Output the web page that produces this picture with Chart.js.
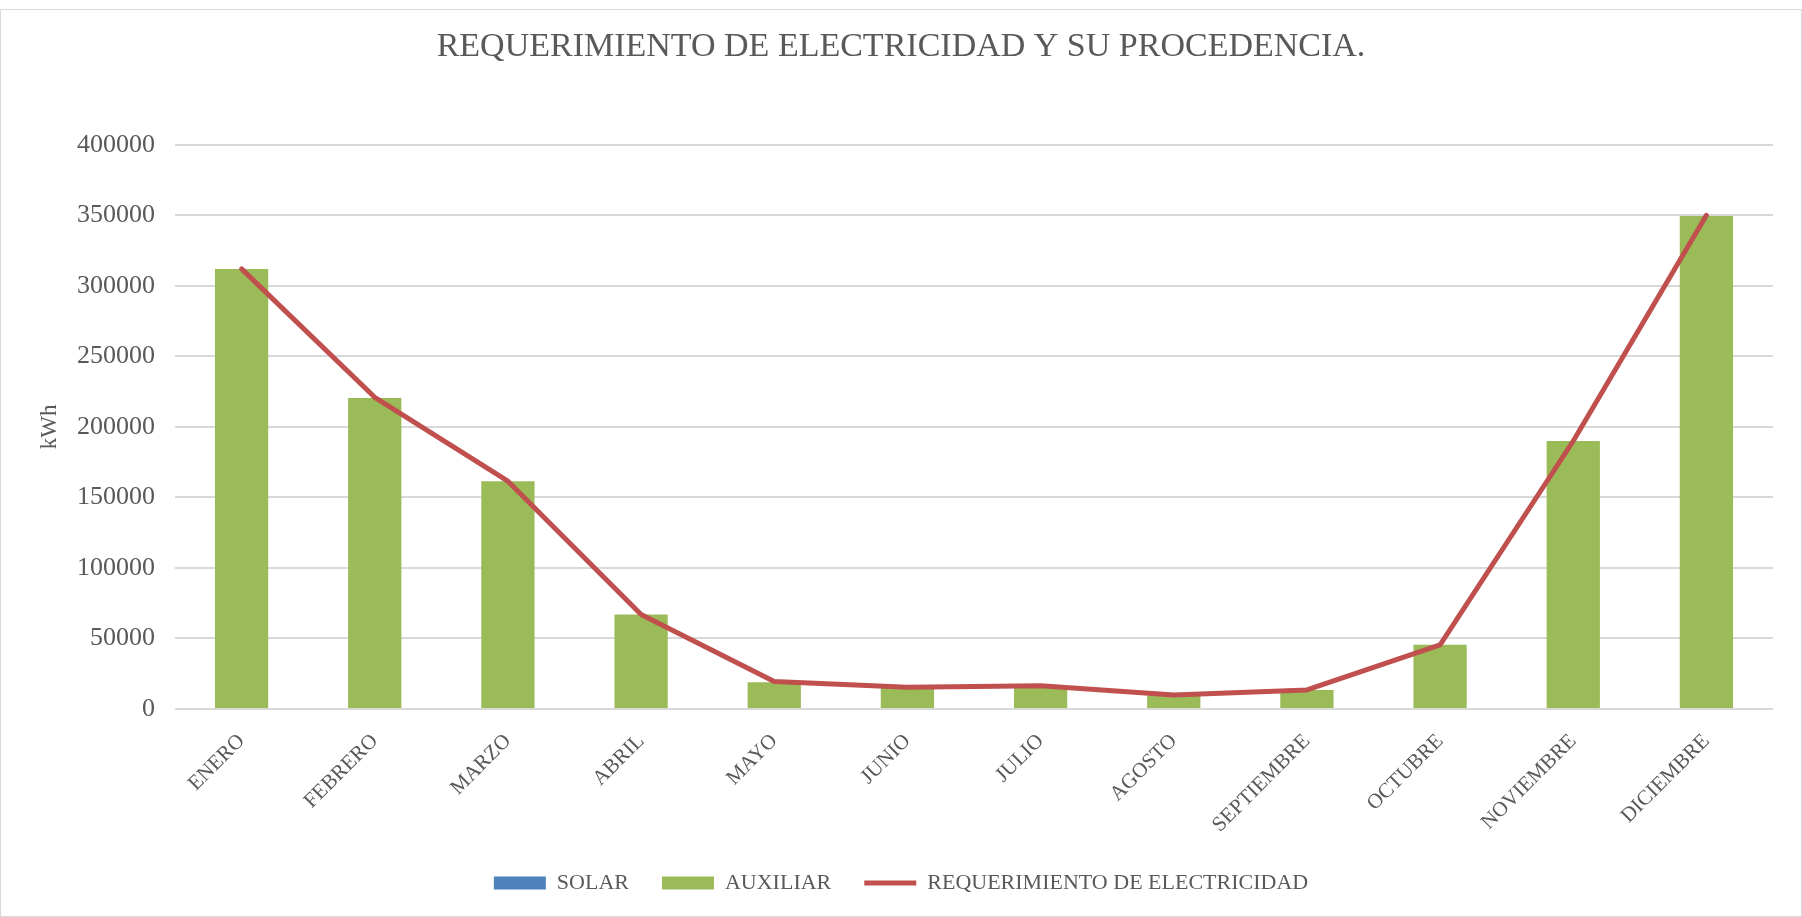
<!DOCTYPE html>
<html>
<head>
<meta charset="utf-8">
<script src="https://cdn.jsdelivr.net/npm/chart.js@4.4.1/dist/chart.umd.min.js"></script>
<style>
  html, body { margin: 0; padding: 0; background: #fff; }
  #wrap { position: absolute; left: 0; top: 9px; width: 1800px; height: 906px; border: 1px solid #d9d9d9; }
  canvas { display: block; }
</style>
</head>
<body>
<div id="wrap"><canvas id="chart" width="1800" height="906"></canvas></div>
<script>
const meses = ['ENERO', 'FEBRERO', 'MARZO', 'ABRIL', 'MAYO', 'JUNIO', 'JULIO', 'AGOSTO', 'SEPTIEMBRE', 'OCTUBRE', 'NOVIEMBRE', 'DICIEMBRE'];
const solar = [0, 0, 0, 0, 0, 0, 0, 0, 0, 0, 0, 0];
const auxiliar = [312000, 220500, 161500, 67000, 19000, 15500, 16500, 9500, 13500, 45500, 190000, 349500];
const requerimiento = [312000, 221000, 161500, 67000, 19500, 15500, 16500, 10000, 13500, 45500, 190000, 350000];

const fuente = 'Liberation Serif';
const gris = '#595959';

document.addEventListener('DOMContentLoaded', function () {
    const ctx = document.getElementById('chart').getContext('2d');

    new Chart(ctx, {
        type: 'bar',
        data: {
            labels: meses,
            datasets: [{
                label: 'SOLAR',
                data: solar,
                backgroundColor: '#4F81BD',
                borderWidth: 0,
                stack: 'fuente',
                order: 1,
                pointStyle: 'rect'
            }, {
                label: 'AUXILIAR',
                data: auxiliar,
                backgroundColor: '#9BBB59',
                borderWidth: 0,
                stack: 'fuente',
                order: 1,
                pointStyle: 'rect'
            }, {
                type: 'line',
                label: 'REQUERIMIENTO DE ELECTRICIDAD',
                data: requerimiento,
                borderColor: '#C0504D',
                backgroundColor: '#C0504D',
                borderWidth: 5,
                borderCapStyle: 'round',
                borderJoinStyle: 'round',
                pointRadius: 0,
                pointHoverRadius: 0,
                tension: 0,
                stack: 'req',
                order: 0,
                pointStyle: 'line'
            }]
        },
        options: {
            responsive: false,
            animation: false,
            layout: { padding: { left: 28, right: 28, top: 0, bottom: 12 } },
            datasets: {
                bar: { categoryPercentage: 1, barPercentage: 0.4 }
            },
            plugins: {
                title: {
                    display: true,
                    text: 'REQUERIMIENTO DE ELECTRICIDAD Y SU PROCEDENCIA.',
                    color: gris,
                    font: { family: fuente, size: 34, weight: 'normal' },
                    padding: { top: 17, bottom: 77 }
                },
                legend: {
                    position: 'bottom',
                    labels: {
                        color: gris,
                        font: { family: fuente, size: 22 },
                        usePointStyle: true,
                        pointStyleWidth: 52,
                        boxHeight: 13,
                        padding: 33,
                        sort: function (a, b) { return a.datasetIndex - b.datasetIndex; }
                    }
                },
                tooltip: { enabled: false }
            },
            scales: {
                x: {
                    stacked: true,
                    grid: { display: false },
                    border: { display: false },
                    ticks: {
                        color: gris,
                        font: { family: fuente, size: 21 },
                        autoSkip: false,
                        minRotation: 45,
                        maxRotation: 45,
                        padding: 12
                    },
                    afterFit: function (scale) { scale.height = 130; }
                },
                y: {
                    stacked: true,
                    min: 0,
                    max: 400000,
                    grid: { color: '#d9d9d9', lineWidth: 2, drawTicks: false },
                    border: { display: false },
                    ticks: {
                        stepSize: 50000,
                        color: gris,
                        font: { family: fuente, size: 26 },
                        padding: 20,
                        callback: function (v) { return String(v); }
                    },
                    title: {
                        display: true,
                        text: 'kWh',
                        color: gris,
                        font: { family: fuente, size: 23, weight: 'normal' },
                        padding: { top: 7, bottom: 0 }
                    },
                    afterFit: function (scale) { scale.width = 146; }
                }
            }
        }
    });
});
</script>
</body>
</html>
